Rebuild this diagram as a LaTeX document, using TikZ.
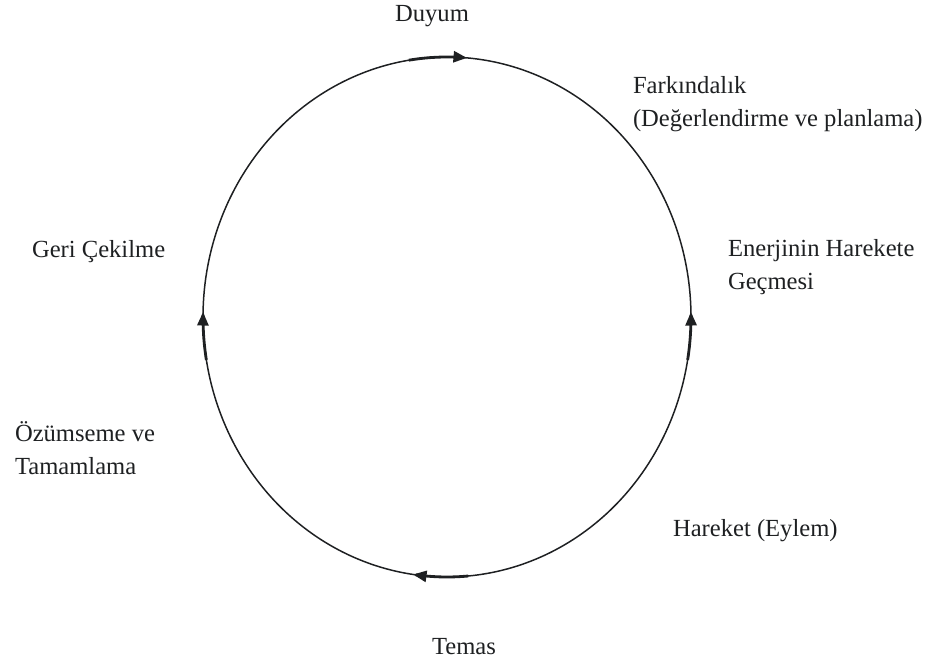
\documentclass[tikz,border=0pt]{standalone}
\usepackage{fontspec}
\setmainfont{Liberation Serif}
\usetikzlibrary{arrows.meta}
\definecolor{ink}{HTML}{1E2022}
\tikzset{
  lbl/.style={inner sep=0pt, outer sep=0pt, text=ink, align=left,
    font=\fontsize{14}{18.5}\selectfont},
  ring/.style={draw=ink, line width=0.85pt},
  flow/.style={draw=ink, line width=1.6pt, -{Triangle[length=0.27cm,width=0.22cm]}}
}
\begin{document}
\begin{tikzpicture}[x=0.02cm,y=-0.02cm]
\useasboundingbox (0,0) rectangle (934,668);
% cycle ring (ellipse centre 447,317)
\draw[ring] plot[domain=84:445, samples=300] ({447+244*cos(\x)},{317-260*sin(\x)});
% arrows on the ring
\draw[flow] plot[domain=99:85.3, samples=20] ({447+244*cos(\x)},{317-260*sin(\x)});
\draw[flow] plot[domain=275:262, samples=20] ({447+244*cos(\x)},{317-260*sin(\x)});
\draw[flow] plot[domain=189.5:178.9, samples=20] ({447+244*cos(\x)},{317-260*sin(\x)});
\draw[flow] plot[domain=-9.5:1.1, samples=20] ({447+244*cos(\x)},{317-260*sin(\x)});
% labels
\node[lbl] (duyum) at (432,16) {Duyum};
\node[lbl, anchor=west] (fark) at (633,104) {Farkındalık\\(Değerlendirme ve planlama)};
\node[lbl, anchor=west] (ener) at (728,267) {Enerjinin Harekete\\Geçmesi};
\node[lbl, anchor=west] (geri) at (32,252) {Geri Çekilme};
\node[lbl, anchor=west] (ozum) at (15,448) {Özümseme ve\\Tamamlama};
\node[lbl, anchor=west] (hare) at (673,531) {Hareket (Eylem)};
\node[lbl] (temas) at (464,647) {Temas};
\end{tikzpicture}
\end{document}
